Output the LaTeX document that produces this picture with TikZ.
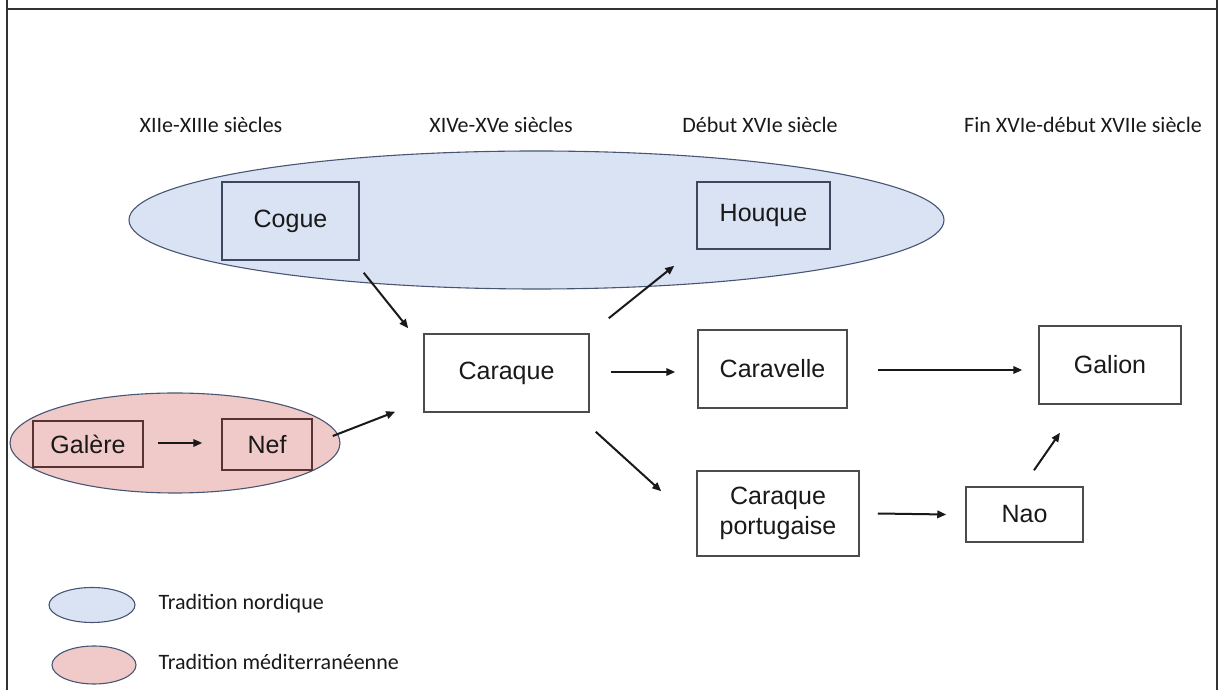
\documentclass[tikz,border=0pt]{standalone}
\usepackage{fontspec}
\setmainfont{Liberation Sans}
\newfontfamily\calib{Carlito}
\usetikzlibrary{arrows.meta}
\definecolor{nordfill}{RGB}{218,227,243}
\definecolor{medfill}{RGB}{240,201,201}
\definecolor{ellline}{RGB}{70,86,115}
\definecolor{nordbox}{RGB}{60,72,95}
\definecolor{medbox}{RGB}{90,50,50}
\definecolor{inkc}{RGB}{25,25,25}
\tikzset{
  x=1pt, y=1pt,
  period/.style={font=\calib\fontsize{22}{26}\selectfont, text=inkc},
  legendtxt/.style={font=\calib\fontsize{22}{26}\selectfont, text=inkc, anchor=west},
  ship/.style={draw=black!70, line width=1.5pt, fill=white, font=\fontsize{25}{30}\selectfont,
               text=inkc, align=center, inner sep=0pt},
  nordship/.style={ship, draw=nordbox, fill=none},
  medship/.style={ship, draw=medbox, fill=none},
  nordzone/.style={draw=ellline, line width=1.1pt, fill=nordfill},
  medzone/.style={draw=ellline, line width=1.1pt, fill=medfill},
  arr/.style={line width=2pt, -{Triangle[length=9pt,width=7.5pt]}, black!90},
  frameline/.style={line width=2pt, draw=black!80}
}
\begin{document}
\begin{tikzpicture}
\useasboundingbox (0,0) rectangle (1220,690);
% outer frame (open at the bottom)
\draw[frameline] (7,690) -- (7,681) -- (1217,681) -- (1217,690);
\draw[frameline] (7,0) -- (7,681);
\draw[frameline] (1217,0) -- (1217,681);

% period headings
\node[period] (p1) at (211,565) {XIIe-XIIIe siècles};
\node[period] (p2) at (501,565) {XIVe-XVe siècles};
\node[period] (p3) at (760,565) {Début XVIe siècle};
\node[period] (p4) at (1083,565) {Fin XVIe-début XVIIe siècle};

% traditions
\draw[nordzone] (536.5,470) ellipse [x radius=407.5, y radius=69];
\draw[medzone] (175,247) ellipse [x radius=165, y radius=50];

% ships
\node[nordship, minimum width=137, minimum height=78] (cogue) at (290.5,469) {Cogue};
\node[nordship, minimum width=133, minimum height=67] (houque) at (763.5,474.5) {Houque};
\node[ship, minimum width=165, minimum height=78] (caraque) at (506.5,317) {Caraque};
\node[ship, minimum width=149, minimum height=78] (caravelle) at (772.5,321) {Caravelle};
\node[ship, minimum width=142, minimum height=78] (galion) at (1110,325) {Galion};
\node[ship, minimum width=162, minimum height=85] (cport) at (778,176.5) {Caraque\\portugaise};
\node[ship, minimum width=117, minimum height=55] (nao) at (1024.5,175.5) {Nao};
\node[medship, minimum width=110, minimum height=46] (galere) at (88,246) {Galère};
\node[medship, minimum width=90, minimum height=51] (nef) at (267,245.5) {Nef};

% filiation
\draw[arr] ([shift={(4,-12)}]cogue.south east) -- ([shift={(-15,5)}]caraque.north west);
\draw[arr] ([shift={(19,15)}]caraque.north east) -- ([shift={(-22,-16)}]houque.south west);
\draw[arr] ([shift={(21,1)}]caraque.east) -- ([shift={(-22,-3)}]caravelle.west);
\draw[arr] ([shift={(30,-1)}]caravelle.east) -- ([shift={(-16,-5)}]galion.west);
\draw[arr] ([shift={(14,1)}]galere.east) -- ([shift={(-19,1.5)}]nef.west);
\draw[arr] ([shift={(20,8.5)}]nef.east) -- ([shift={(-28,1)}]caraque.south west);
\draw[arr] ([shift={(6,-19)}]caraque.south east) -- ([shift={(-35,-21)}]cport.north west);
\draw[arr] ([shift={(18,0)}]cport.east) -- ([shift={(-19,0)}]nao.west);
\draw[arr] ([shift={(9.5,16)}]nao.north) -- ([shift={(-50,-28)}]galion.south);

% legend
\draw[nordzone] (92,85) ellipse [x radius=43, y radius=17.5];
\node[legendtxt] (lnord) at (155,86) {Tradition nordique};
\draw[medzone] (94,25) ellipse [x radius=42, y radius=19];
\node[legendtxt] (lmed) at (155,28) {Tradition méditerranéenne};
\end{tikzpicture}
\end{document}
